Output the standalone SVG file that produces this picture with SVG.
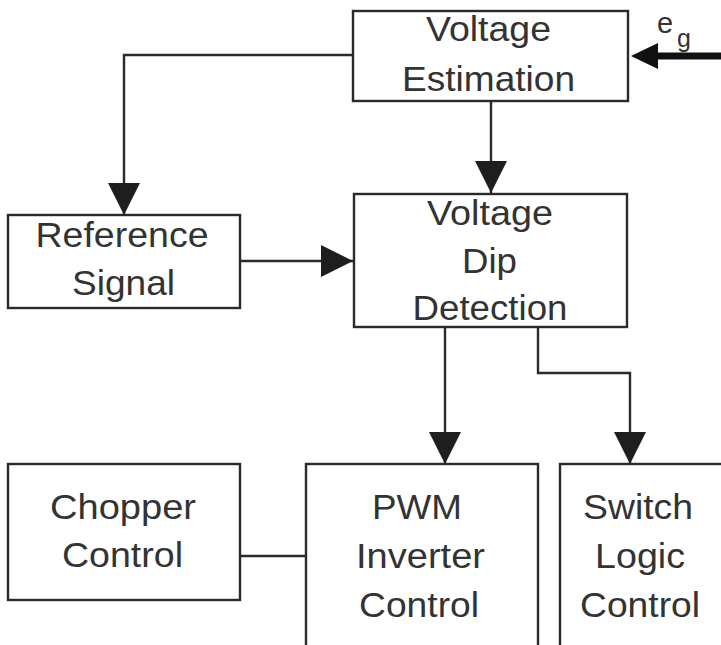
<svg xmlns="http://www.w3.org/2000/svg" width="721" height="645" viewBox="0 0 721 645">
<defs>
<style>
.box{fill:#fff;stroke:#2a2a2a;stroke-width:2.4}
.ln{fill:none;stroke:#2a2a2a;stroke-width:2.4}
.t{font-family:"Liberation Sans",Arial,sans-serif;font-size:35px;fill:#333;text-anchor:middle}
</style>
<marker id="ah" markerUnits="userSpaceOnUse" markerWidth="32" markerHeight="32" refX="32" refY="16" orient="auto" viewBox="0 0 32 32">
<path d="M0,0 L32,16 L0,32 Z" fill="#1e1e1e"/>
</marker>
</defs>
<rect width="721" height="645" fill="#fff"/>
<g id="connectors">
<path class="ln" d="M353,55 H124 V215" marker-end="url(#ah)"/>
<path class="ln" d="M491,101 V193" marker-end="url(#ah)"/>
<path class="ln" d="M240,261 H353" marker-end="url(#ah)"/>
<path class="ln" d="M445,327 V464" marker-end="url(#ah)"/>
<path class="ln" d="M538,327 V373 H630 V464" marker-end="url(#ah)"/>
<path class="ln" d="M240,556 H306"/>
<path d="M721,56 H655" stroke="#111" stroke-width="7" fill="none"/>
<path d="M631,56 L658,43 L658,69 Z" fill="#111"/>
<text x="657" y="33" font-family="Liberation Sans, Arial, sans-serif" font-size="29" fill="#333">e</text>
<text x="677" y="47" font-family="Liberation Sans, Arial, sans-serif" font-size="25" fill="#333">g</text>
</g>
<g id="voltage-estimation">
<rect class="box" x="353" y="11" width="275" height="90"/>
<text class="t" x="488.5" y="41" textLength="125" lengthAdjust="spacingAndGlyphs">Voltage</text>
<text class="t" x="488.5" y="91" textLength="173" lengthAdjust="spacingAndGlyphs">Estimation</text>
</g>
<g id="reference-signal">
<rect class="box" x="8" y="215" width="232" height="93"/>
<text class="t" x="122" y="247" textLength="173" lengthAdjust="spacingAndGlyphs">Reference</text>
<text class="t" x="123.5" y="295" textLength="103" lengthAdjust="spacingAndGlyphs">Signal</text>
</g>
<g id="voltage-dip-detection">
<rect class="box" x="354" y="194" width="273" height="133"/>
<text class="t" x="490" y="225" textLength="126" lengthAdjust="spacingAndGlyphs">Voltage</text>
<text class="t" x="489.5" y="273" textLength="55" lengthAdjust="spacingAndGlyphs">Dip</text>
<text class="t" x="490" y="320" textLength="155" lengthAdjust="spacingAndGlyphs">Detection</text>
</g>
<g id="chopper-control">
<rect class="box" x="8" y="464" width="232" height="136"/>
<text class="t" x="123" y="519" textLength="146" lengthAdjust="spacingAndGlyphs">Chopper</text>
<text class="t" x="122.5" y="567" textLength="121" lengthAdjust="spacingAndGlyphs">Control</text>
</g>
<g id="pwm-inverter-control">
<rect class="box" x="306" y="464" width="232" height="200"/>
<text class="t" x="417" y="519" textLength="90" lengthAdjust="spacingAndGlyphs">PWM</text>
<text class="t" x="420.5" y="568" textLength="129" lengthAdjust="spacingAndGlyphs">Inverter</text>
<text class="t" x="419" y="617" textLength="120" lengthAdjust="spacingAndGlyphs">Control</text>
</g>
<g id="switch-logic-control">
<rect class="box" x="560" y="464" width="170" height="200"/>
<text class="t" x="638" y="519" textLength="110" lengthAdjust="spacingAndGlyphs">Switch</text>
<text class="t" x="640" y="568" textLength="90" lengthAdjust="spacingAndGlyphs">Logic</text>
<text class="t" x="640" y="617" textLength="120" lengthAdjust="spacingAndGlyphs">Control</text>
</g>
</svg>
